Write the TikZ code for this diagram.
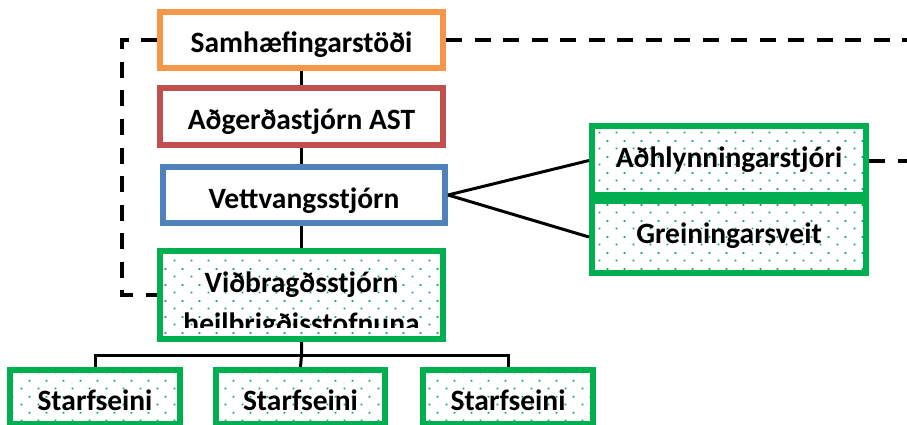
\documentclass[tikz,border=0pt]{standalone}
\usepackage{fontspec}
\setmainfont{Carlito}
\usetikzlibrary{patterns.meta}
\definecolor{borange}{HTML}{F79646}
\definecolor{bred}{HTML}{C0504D}
\definecolor{bblue}{HTML}{4F81BD}
\definecolor{bgreen}{HTML}{00B050}
\tikzdeclarepattern{
  name=gdots,
  type=colored,
  bottom left={(0pt,0pt)},
  top right={(17pt,16pt)},
  tile size={(17pt,16pt)},
  code={
    \fill[bgreen] (3.8pt,3.8pt) rectangle (5.6pt,5.6pt);
    \fill[bgreen] (12.3pt,11.8pt) rectangle (14.1pt,13.6pt);
  }
}
\tikzset{
  boxfont/.style={font=\fontsize{29.5}{36}\selectfont\bfseries, text=black},
  box/.style={draw, line width=6pt, fill=white, inner sep=0pt, boxfont,
    text height=26pt, text depth=0pt},
  gbox/.style={box, draw=bgreen, preaction={fill=white}, pattern={gdots}},
  conn/.style={draw=black, line width=3pt},
  dashln/.style={draw=black, line width=4pt, dash pattern=on 16pt off 12.5pt},
}
\begin{document}
\begin{tikzpicture}[x=1pt,y=-1pt]
\useasboundingbox (0,0) rectangle (907,425);
\clip (0,0) rectangle (907,425);

% dashed lines
\coordinate (tl) at (122,40);
\coordinate (tr) at (910,40);
\coordinate (ar) at (910,160.5);

% boxes
\node[box, draw=borange, minimum width=283pt, minimum height=56pt] (sam) at (301.5,40) {Samhæfingarstöði};
\node[box, draw=bred, minimum width=283pt, minimum height=57pt] (ast) at (301.5,116.5) {Aðgerðastjórn AST};
\node[box, draw=bblue, minimum width=282pt, minimum height=56pt] (vet) at (304,195) {Vettvangsstjórn};
\node[gbox, minimum width=274pt, minimum height=69pt, text height=13pt] (adh) at (729,160.5) {Aðhlynningarstjóri};
\node[gbox, minimum width=274pt, minimum height=72pt, text height=12pt] (grein) at (729,237) {Greiningarsveit};
\node[gbox, minimum width=283pt, minimum height=88pt] (vid) at (301.5,295) {};
\begin{scope}
  \clip (163,254) rectangle (440,327);
  \node[boxfont, anchor=base, inner sep=0pt] (vid1) at (301.5,292) {Viðbragðsstjórn};
  \node[boxfont, anchor=base, inner sep=0pt] (vid2) at (301.5,333) {heilbrigðisstofnuna};
\end{scope}
\node[gbox, minimum width=170pt, minimum height=54pt] (st1) at (95,397) {Starfseini};
\node[gbox, minimum width=169pt, minimum height=54pt] (st2) at (300.5,397) {Starfseini};
\node[gbox, minimum width=170pt, minimum height=54pt] (st3) at (508,397) {Starfseini};

\begin{scope}[on background layer/.try]
\end{scope}
\draw[dashln] (sam.west) -- (tl) |- (vid.west);
\draw[dashln] (sam.east) -- (tr);
\draw[dashln] (adh.east) -- (ar);

% solid connectors
\draw[conn] (sam.south) -- (sam.south |- ast.north);
\draw[conn] (ast.south) -- (ast.south |- vet.north);
\draw[conn] (vet.south -| vid.north) -- (vid.north);
\draw[conn] (vet.east) -- (adh.west);
\draw[conn] (vet.east) -- (grein.west);
\coordinate (j) at (301.5,355);
\draw[conn] (vid.south) -- (j) -- (st2.north);
\draw[conn] (st1.north) |- (j) -| (st3.north);
\end{tikzpicture}
\end{document}
